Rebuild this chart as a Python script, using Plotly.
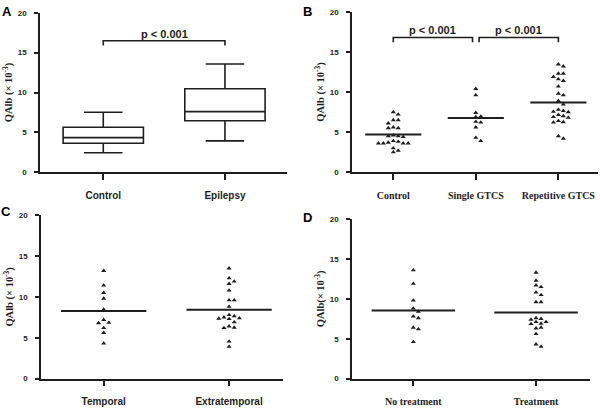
import plotly.graph_objects as go

# Panel A: box summaries, QAlb (x 10^-3)
a_groups = ["Control", "Epilepsy"]
a_low = [2.45, 3.93]
a_q1 = [3.64, 6.46]
a_med = [4.34, 7.6]
a_q3 = [5.64, 10.47]
a_high = [7.53, 13.58]

# Panel B: individual values
b_groups = ["Control", "Single GTCS", "Repetitive GTCS"]
b_control = [7.5, 7.2, 6.5, 6.5, 6.1, 5.6, 5.5, 5.5, 4.6, 4.5, 4.5, 4.4,
             3.9, 3.8, 3.7, 3.6, 3.6, 3.6, 3.6, 3.0, 2.7, 2.5]
b_single = [10.4, 9.6, 7.4, 6.95, 6.9, 6.3, 6.2, 5.6, 4.3, 3.9]
b_repetitive = [13.45, 13.2, 12.3, 12.3, 11.9, 11.6, 11.4, 10.7, 9.8, 9.6,
                8.9, 8.45, 7.8, 7.65, 7.55, 7.5, 7.15, 7.0, 6.9, 6.8, 6.4,
                6.25, 6.2, 4.5, 4.2]
b_lines = [4.7, 6.75, 8.7]

# Panel C
c_groups = ["Temporal", "Extratemporal"]
c_temporal = [13.2, 11.4, 10.5, 9.8, 8.45, 7.2, 6.85, 6.8, 6.2, 5.6, 4.3]
c_extra = [13.5, 12.3, 11.9, 11.6, 10.8, 9.6, 9.6, 8.8, 7.8, 7.65, 7.5,
           7.4, 7.35, 7.3, 6.9, 6.4, 6.25, 6.2, 4.55, 3.9]
c_lines = [8.26, 8.42]

# Panel D
d_groups = ["No treatment", "Treatment"]
d_none = [13.6, 11.9, 9.8, 8.8, 8.4, 7.8, 7.6, 6.4, 6.2, 4.6]
d_treat = [13.3, 12.3, 11.7, 11.5, 10.8, 10.5, 9.6, 9.6, 7.6, 7.5, 7.4,
           7.1, 7.1, 6.9, 6.85, 6.3, 6.4, 5.6, 4.3, 4.0]
d_lines = [8.55, 8.3]

INK = "#1e1e1e"
W, H = 600, 409


def swarm(vals, step, gap=0.5):
    # simple column scatter: push points sideways when they would overlap
    placed, xs = [], []
    for v in vals:
        for k in [0, 1, -1, 2, -2, 3, -3, 4, -4, 5, -5]:
            if all(abs(v - pv) >= gap or pk != k for pv, pk in placed):
                break
        placed.append((v, k))
        xs.append(k * step)
    return xs


fig = go.Figure()


def add_dots(ax, groups, series, lines, step):
    xr, yr = "x" + ax, "y" + ax
    for i, (vals, m) in enumerate(zip(series, lines)):
        off = swarm(vals, step)
        fig.add_trace(go.Scatter(x=[i + o for o in off], y=vals, mode="markers",
                                 marker=dict(symbol="triangle-up", size=4.5, color=INK),
                                 xaxis=xr, yaxis=yr, showlegend=False))
        fig.add_trace(go.Scatter(x=[i - 0.34, i + 0.34], y=[m, m], mode="lines",
                                 line=dict(color=INK, width=2),
                                 xaxis=xr, yaxis=yr, showlegend=False))


def bracket(ax, x0, x1, y, drop=0.6, label="p &lt; 0.001", ty=17.5):
    fig.add_trace(go.Scatter(x=[x0, x0, x1, x1], y=[y - drop, y, y, y - drop],
                             mode="lines", line=dict(color=INK, width=1.6),
                             xaxis="x" + ax, yaxis="y" + ax, showlegend=False))
    fig.add_annotation(x=(x0 + x1) / 2, y=ty, xref="x" + ax, yref="y" + ax,
                       text=label, showarrow=False,
                       font=dict(family="Liberation Sans, Arial", size=11,
                                 color=INK, weight="bold"))


# Panel A boxes
for i, g in enumerate(a_groups):
    fig.add_trace(go.Box(x=[i], q1=[a_q1[i]], median=[a_med[i]], q3=[a_q3[i]],
                         lowerfence=[a_low[i]], upperfence=[a_high[i]],
                         width=0.66, whiskerwidth=0.48, boxpoints=False,
                         fillcolor="white", line=dict(color=INK, width=1.6),
                         xaxis="x", yaxis="y", showlegend=False, name=g))
bracket("", 0, 1, 16.5, ty=17.3)

add_dots("2", b_groups, [b_control, b_single, b_repetitive], b_lines, 0.06)
bracket("2", 0, 0.96, 16.8, ty=17.7)
bracket("2", 1.04, 2, 16.8, ty=17.7)

add_dots("3", c_groups, [c_temporal, c_extra], c_lines, 0.041)
add_dots("4", d_groups, [d_none, d_treat], d_lines, 0.041)


def px_dom(a, b, total):
    return [a / total, b / total]


panels = {
    # key: (x px left, x px right, y px at 20, y px at 0, x range, groups, serif, title)
    "": (40, 287, 9, 172, [-0.52, 1.51], a_groups, False, "QAlb (× 10<sup>-3</sup>)"),
    "2": (352, 598, 8, 172, [-0.5, 2.48], b_groups, True, "QAlb (× 10<sup>-3</sup>)"),
    "3": (41, 283, 216, 383, [-0.5, 1.43], c_groups, False, "QAlb (× 10<sup>-3</sup>)"),
    "4": (352, 590, 220, 383, [-0.5, 1.44], d_groups, True, "QAlb(× 10<sup>-3</sup>)"),
}

sans = "Liberation Sans, Arial"
serif = "Liberation Serif, Times New Roman"
for key, (x0, x1, yt, yb, xr, groups, is_serif, ttl) in panels.items():
    fig.layout["xaxis" + key] = dict(
        domain=px_dom(x0, x1, W), range=xr, anchor="y" + key,
        tickvals=list(range(len(groups))), ticktext=groups,
        ticks="outside", ticklen=6, tickwidth=1.5, tickcolor=INK,
        showline=True, linewidth=1.6, linecolor=INK, showgrid=False, zeroline=False,
        ticklabelstandoff=7,
        tickfont=dict(family=serif if is_serif else sans, size=10, color=INK, weight="bold"),
    )
    fig.layout["yaxis" + key] = dict(
        domain=[1 - yb / H, 1 - yt / H], range=[0, 20], anchor="x" + key,
        tickvals=[0, 5, 10, 15, 20],
        ticks="outside", ticklen=4, tickwidth=1.5, tickcolor=INK,
        showline=True, linewidth=1.6, linecolor=INK, showgrid=False, zeroline=False,
        ticklabelstandoff=6,
        tickfont=dict(family=sans, size=8, color=INK, weight="bold"),
        title=dict(text=ttl, standoff=3,
                   font=dict(family=serif, size=10.5, color=INK, weight="bold")),
    )

for letter, lx, ly in [("A", 7, 7.5), ("B", 307.5, 7.5), ("C", 6, 212.5), ("D", 307, 218.5)]:
    fig.add_annotation(x=lx / W, y=1 - ly / H, xref="paper", yref="paper",
                       xanchor="center", yanchor="middle", text=letter, showarrow=False,
                       font=dict(family=sans, size=13, color="black", weight="bold"))

fig.update_layout(width=W, height=H, margin=dict(l=0, r=0, t=0, b=0),
                  plot_bgcolor="white", paper_bgcolor="white", showlegend=False)

fig.write_html("out.html", config={"displayModeBar": False},
               post_script="document.body.style.margin='0';")
